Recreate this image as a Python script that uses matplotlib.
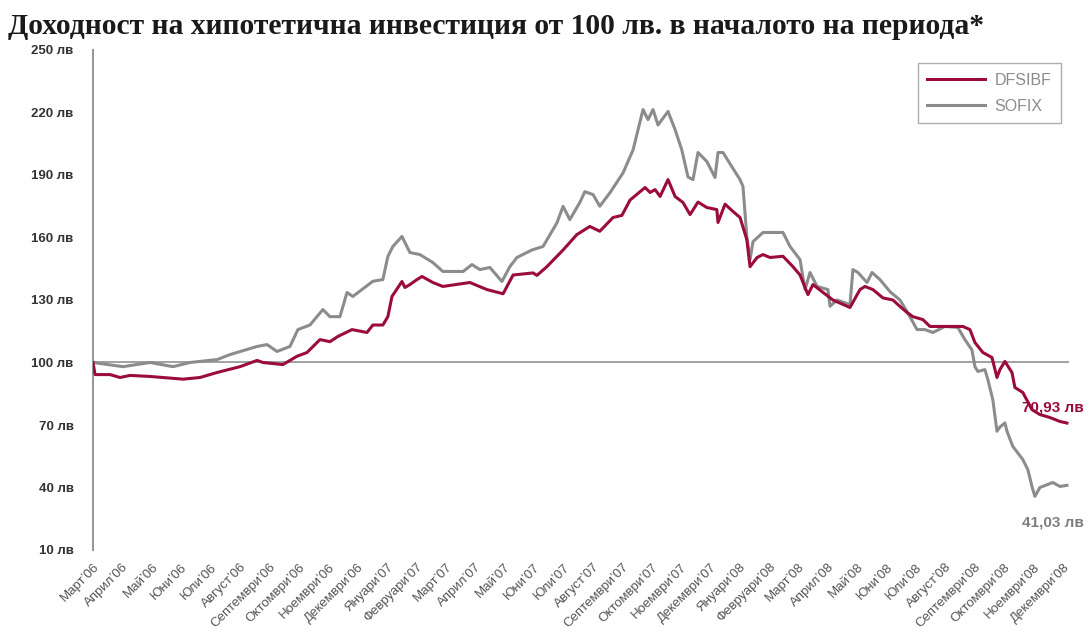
import matplotlib
matplotlib.use("Agg")
import matplotlib.pyplot as plt

# month index: 0 = March 2006
months = ["Март", "Април", "Май", "Юни", "Юли", "Август", "Септември", "Октомври",
          "Ноември", "Декември", "Януари", "Февруари"]
month_labels = []
for i in range(34):
    m = i % 12
    yr = 2006 + (i + 2) // 12
    month_labels.append("{}’{:02d}".format(months[m], yr % 100))

sofix_t = [0, 1.02, 1.94, 2.72, 3.30, 4.22, 4.66, 5.58, 5.92, 6.26, 6.70, 6.97, 7.38, 7.82,
           8.06, 8.40, 8.64, 8.84, 9.52, 9.86, 10.03, 10.20, 10.51, 10.78, 11.12, 11.56,
           11.90, 12.59, 12.89, 13.16, 13.50, 13.91, 14.18, 14.42, 14.93, 15.31, 15.78,
           15.99, 16.22, 16.56, 16.73, 17.01, 17.24, 17.59, 18.03, 18.37, 18.71, 18.88,
           19.05, 19.22, 19.56, 19.80, 20.03, 20.24, 20.41, 20.58, 20.88, 21.16, 21.26,
           21.43, 21.73, 22.01, 22.11, 22.24, 22.35, 22.45, 22.79, 23.47, 23.71, 24.05,
           24.22, 24.39, 24.63, 25.00, 25.07, 25.31, 25.75, 25.85, 26.02, 26.33, 26.50,
           26.77, 27.11, 27.45, 27.69, 28.03, 28.30, 28.57, 28.98, 29.42, 29.66, 29.90,
           30.00, 30.10, 30.34, 30.44, 30.61, 30.75, 30.85, 31.02, 31.09, 31.29, 31.63,
           31.80, 31.94, 32.04, 32.21, 32.65, 32.89, 33.13]
sofix_v = [100, 98, 100, 98, 100, 101.4, 103.8, 107.7, 108.6, 105.3, 107.7, 115.8, 118, 125.4,
           122, 122, 133.6, 131.7, 139, 139.8, 150.9, 155.7, 160.5, 152.8, 151.8, 148,
           143.7, 143.7, 147, 144.6, 145.6, 138.9, 146, 150.4, 154, 155.7, 167,
           175, 168.6, 176.8, 182, 180.6, 175, 181.6, 191, 202, 221.4, 216.6,
           221.4, 214, 220.5, 211.8, 202, 189, 187.8, 200.8, 196.5, 188.8, 200.8,
           200.8, 194, 187.8, 184.5, 160.5, 149.4, 158, 162.4, 162.4, 155.7, 149.4,
           135, 143.2, 136.5, 135, 127, 130, 127.8, 144.6, 143.2, 138.4, 143.2,
           139.8, 134, 130, 124.5, 115.8, 115.8, 114.4, 117.3, 116.8, 111, 106,
           98, 95.7, 96.6, 91.8, 82, 67, 69, 71, 67, 59.7, 53.4,
           48.6, 40.5, 35.7, 40, 42.4, 40.5, 41.03]

dfs_t = [0, 0.07, 0.58, 0.92, 1.26, 1.94, 3.06, 3.64, 4.22, 5.00, 5.58, 5.78, 6.46, 6.94,
         7.28, 7.72, 8.06, 8.33, 8.81, 9.32, 9.52, 9.86, 10.03, 10.17, 10.51, 10.61, 10.78,
         11.02, 11.19, 11.56, 11.90, 12.82, 13.40, 13.95, 14.29, 14.97, 15.10, 15.44,
         15.99, 16.46, 16.90, 17.24, 17.69, 17.99, 18.27, 18.78, 18.95, 19.12, 19.29,
         19.56, 19.80, 20.07, 20.31, 20.58, 20.88, 21.22, 21.26, 21.50, 21.77, 22.01,
         22.24, 22.35, 22.59, 22.79, 23.03, 23.47, 23.81, 24.05, 24.32, 24.49, 24.80,
         25.17, 25.75, 26.09, 26.26, 26.53, 26.87, 27.21, 27.45, 27.69, 27.89, 28.23,
         28.47, 28.91, 29.59, 29.83, 30.00, 30.27, 30.58, 30.75, 30.85, 31.02, 31.26,
         31.36, 31.63, 31.94, 32.21, 32.55, 32.89, 33.13]
dfs_v = [100, 94.2, 94.2, 92.8, 93.8, 93.3, 92, 92.8, 95.2, 98, 101, 100, 99, 103,
         104.8, 111, 110, 112.5, 115.8, 114.4, 118, 118, 122, 131.7, 138.9, 136, 137.4,
         139.8, 141.3, 138.4, 136.5, 138.4, 135, 133, 142, 143, 141.8, 146,
         154, 161.4, 165.3, 163, 169.6, 170.6, 178, 184, 181.6, 183, 179.7,
         187.8, 179.7, 176.8, 171, 177, 174.4, 173.4, 167.2, 176, 172.5, 169.6,
         159, 146, 150.4, 151.8, 150.4, 151, 146, 142, 132.6, 137.4, 134,
         130, 126.4, 135, 136.5, 135, 131, 130, 126.9, 124, 122, 120.6,
         117.3, 117.3, 117.3, 115.8, 109.6, 104.8, 102.4, 92.8, 96.6, 100.5, 95.2,
         88, 85.6, 77.4, 75, 73.6, 71.7, 70.93]

yticks = [10, 40, 70, 100, 130, 160, 190, 220, 250]

red = "#9b0b3b"
grey = "#8c8c8c"

fig = plt.figure(figsize=(10.89, 6.43), dpi=100)
ax = fig.add_axes([93 / 1089, 1 - 550 / 643, (1069 - 93) / 1089, 500 / 643])

ax.axhline(100, color="#9a9a9a", lw=1.3, zorder=1)
ax.plot(sofix_t, sofix_v, color=grey, lw=2.2, label="SOFIX", zorder=2)
ax.plot(dfs_t, dfs_v, color=red, lw=2.2, label="DFSIBF", zorder=3)

ax.set_xlim(0, 33.2)
ax.set_ylim(10, 250)
ax.set_yticks(yticks)
ax.set_yticklabels(["{} лв".format(v) for v in yticks], fontsize=9.5, fontweight="bold",
                   color="#333333", family="Liberation Sans")
ax.set_xticks(range(34))
ax.set_xticklabels(month_labels, rotation=45, ha="right", va="top", rotation_mode="anchor",
                   fontsize=9.5, color="#555555", family="Liberation Sans")
ax.tick_params(axis="both", length=0)
ax.tick_params(axis="y", pad=14)
ax.tick_params(axis="x", pad=8)

for s in ["top", "right", "bottom"]:
    ax.spines[s].set_visible(False)
ax.spines["left"].set_color("#999999")
ax.spines["left"].set_linewidth(1.5)

handles, labels = ax.get_legend_handles_labels()
leg = ax.legend(handles[::-1], labels[::-1], loc="upper right", bbox_to_anchor=(1.0, 0.99),
                frameon=True, fancybox=False, prop={"family": "Liberation Sans", "size": 11.5},
                handlelength=3.6, labelcolor="#8c8c8c", borderpad=0.6, labelspacing=0.7,
                handletextpad=0.6)
leg.get_frame().set_edgecolor("#999999")
leg.get_frame().set_linewidth(1.0)

ax.text(33.7, dfs_v[-1] + 7.5, "70,93 лв", color=red, fontsize=11, fontweight="bold",
        ha="right", va="center", family="Liberation Sans", clip_on=False)
ax.text(33.7, sofix_v[-1] - 18, "41,03 лв", color="#7f7f7f", fontsize=11, fontweight="bold",
        ha="right", va="center", family="Liberation Sans", clip_on=False)

fig.text(8 / 1089, 1 - 27 / 643, "Доходност на хипотетична инвестиция от 100 лв. в началото на периода*",
         fontsize=21.3, fontweight="bold", family="Liberation Serif", color="#1a1a1a",
         ha="left", va="center")

fig.savefig("out.png", dpi=100, facecolor="white")
